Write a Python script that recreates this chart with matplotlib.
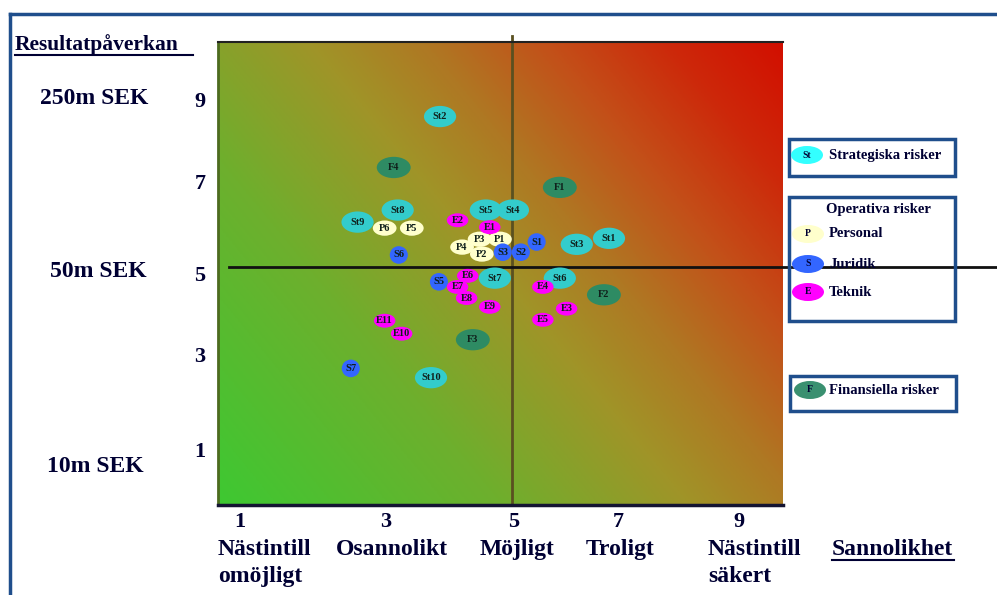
import numpy as np
import matplotlib
matplotlib.use("Agg")
import matplotlib.pyplot as plt
from matplotlib.patches import Ellipse, Rectangle
from matplotlib.colors import LinearSegmentedColormap
from matplotlib.lines import Line2D

W, H = 997, 595
NAVY = "#1f4e8c"
TXT = "#000033"
SERIF = "Liberation Serif"

# --- data: (sannolikhet, resultatpåverkan) per risk ---
st_names = ["St1", "St2", "St3", "St4", "St5", "St6", "St7", "St8", "St9", "St10"]
st_x = [6.72, 3.73, 6.15, 5.02, 4.54, 5.85, 4.70, 2.98, 2.27, 3.57]
st_y = [5.62, 8.25, 5.49, 6.23, 6.23, 4.76, 4.76, 6.23, 5.97, 2.61]

f_names = ["F1", "F2", "F3", "F4"]
f_x = [5.85, 6.63, 4.31, 2.91]
f_y = [6.72, 4.40, 3.43, 7.15]

p_names = ["P1", "P2", "P3", "P4", "P5", "P6"]
p_x = [4.79, 4.47, 4.43, 4.12, 3.23, 2.75]
p_y = [5.60, 5.28, 5.60, 5.43, 5.84, 5.84]

s_names = ["S1", "S2", "S3", "S5", "S6", "S7"]
s_x = [5.44, 5.16, 4.84, 3.71, 3.00, 2.15]
s_y = [5.54, 5.32, 5.32, 4.68, 5.26, 2.81]

e_names = ["E1", "E2", "E3", "E4", "E5", "E6", "E7", "E8", "E9", "E10", "E11"]
e_x = [4.61, 4.04, 5.97, 5.55, 5.55, 4.22, 4.04, 4.20, 4.61, 3.05, 2.75]
e_y = [5.86, 6.01, 4.10, 4.57, 3.86, 4.81, 4.57, 4.33, 4.14, 3.56, 3.84]

x_ticklabels = ["1", "3", "5", "7", "9"]
y_ticklabels = ["1", "3", "5", "7", "9"]
x_categories = ["Nästintill\nomöjligt", "Osannolikt", "Möjligt", "Troligt", "Nästintill\nsäkert"]
y_amounts = ["10m SEK", "50m SEK", "250m SEK"]

# colour, ellipse width/height (data units), per group
GROUPS = [
    (st_names, st_x, st_y, "#33cccc", 0.57, 0.46),
    (f_names, f_x, f_y, "#2e8b63", 0.60, 0.46),
    (p_names, p_x, p_y, "#ffffcc", 0.42, 0.33),
    (s_names, s_x, s_y, "#3366ff", 0.32, 0.38),
    (e_names, e_x, e_y, "#ff00ff", 0.38, 0.30),
]


def fx(px):
    return px / W


def fy(py):
    return 1 - py / H


fig = plt.figure(figsize=(W / 100, H / 100), dpi=100)
ax = fig.add_axes([fx(218), fy(505), (783 - 218) / W, (505 - 42) / H])
xmin, xmax = -0.20, 9.80
ymin, ymax = -0.14, 9.86
ax.set_xlim(xmin, xmax)
ax.set_ylim(ymin, ymax)

# diagonal gradient background (projection on the pixel diagonal)
bw, bh = 565.0, 463.0
gx, gy = np.meshgrid(np.linspace(0, bw, 400), np.linspace(0, bh, 400))
grad = (gx * bw + gy * bh) / (bw ** 2 + bh ** 2)
cmap = LinearSegmentedColormap.from_list(
    "risk", [(0.0, "#3ec832"), (0.3, "#6eaf2d"), (0.5, "#a09428"),
             (0.62, "#af7823"), (0.75, "#c35019"), (0.88, "#cd280a"), (1.0, "#d20f00")])
ax.imshow(grad, cmap=cmap, origin="lower", extent=(xmin, xmax, ymin, ymax),
          aspect="auto", zorder=0)

# dividers
ax.plot([5, 5], [ymin, 10.0], color="#5a5020", lw=2, zorder=1, clip_on=False)
ax.plot([0.0, 13.6], [5, 5], color="#111111", lw=2, zorder=1, clip_on=False)

for names, xs, ys, color, w, h in GROUPS:
    for n, x, y in zip(names, xs, ys):
        ax.add_patch(Ellipse((x, y), w, h, facecolor=color, edgecolor="none", zorder=3))
        ax.text(x, y, n, ha="center", va="center", fontsize=7.5, fontweight="bold",
                family=SERIF, color="#10201c", zorder=4)

# ticks
ax.set_xticks([0.19, 2.77, 5.04, 6.89, 9.02])
ax.set_xticklabels(x_ticklabels)
ax.set_yticks([1.06, 3.11, 4.87, 6.85, 8.61])
ax.set_yticklabels(y_ticklabels)
ax.tick_params(length=0, labelsize=16, labelcolor=TXT)
ax.tick_params(axis="x", pad=5)
ax.tick_params(axis="y", pad=9)
for lab in ax.get_xticklabels() + ax.get_yticklabels():
    lab.set_fontfamily(SERIF)
    lab.set_fontweight("bold")

ax.spines["right"].set_visible(False)
ax.spines["left"].set_color("#4d6b1f")
ax.spines["left"].set_linewidth(2)
ax.spines["bottom"].set_color("#141432")
ax.spines["bottom"].set_linewidth(2.5)
ax.spines["top"].set_color("#222222")
ax.spines["top"].set_linewidth(1.5)

# outer frame
fig.add_artist(Line2D([fx(10), fx(997)], [fy(14), fy(14)], color=NAVY, lw=2.5))
fig.add_artist(Line2D([fx(10), fx(10)], [fy(14), fy(595)], color=NAVY, lw=2.5))

tkw = dict(family=SERIF, fontweight="bold", color=TXT)
fig.text(fx(15), fy(45), "Resultatpåverkan", fontsize=15.5, ha="left", va="center", **tkw)
fig.add_artist(Line2D([fx(15), fx(193)], [fy(55), fy(55)], color=TXT, lw=1.5))

for lab, (px, py) in zip(y_amounts, [(95, 467), (98, 272), (94, 98)]):
    fig.text(fx(px), fy(py), lab, fontsize=17, ha="center", va="center", **tkw)

for lab, px in zip(x_categories, [218, 336, 480, 586, 708]):
    fig.text(fx(px), fy(539), lab, fontsize=17, ha="left", va="top",
             linespacing=1.4, **tkw)
fig.text(fx(832), fy(539), "Sannolikhet", fontsize=17, ha="left", va="top", **tkw)
fig.add_artist(Line2D([fx(832), fx(954)], [fy(560), fy(560)], color=TXT, lw=1.5))

# legend boxes
for (x0, y0, x1, y1) in [(789, 139, 955, 176), (789, 197, 955, 321), (790, 376, 956, 411)]:
    fig.add_artist(Rectangle((fx(x0), fy(y1)), fx(x1) - fx(x0), fy(y0) - fy(y1),
                             fill=False, edgecolor=NAVY, lw=2.5))

legend_items = [("St", "#33ffff", 807, 155, "Strategiska risker"),
                ("P", "#ffffcc", 808, 234, "Personal"),
                ("S", "#3366ff", 808, 264, "Juridik"),
                ("E", "#ff00ff", 808, 292, "Teknik"),
                ("F", "#3a9070", 810, 390, "Finansiella risker")]
for tag, color, px, py, label in legend_items:
    fig.add_artist(Ellipse((fx(px), fy(py)), 32 / W, 18 / H, facecolor=color,
                           edgecolor="none"))
    fig.text(fx(px), fy(py), tag, fontsize=7, ha="center", va="center", **tkw)
    fig.text(fx(829), fy(py), label, fontsize=10.5, ha="left", va="center", **tkw)
fig.text(fx(878), fy(209), "Operativa risker", fontsize=10.5, ha="center", va="center", **tkw)

fig.savefig("out.png", dpi=100)
